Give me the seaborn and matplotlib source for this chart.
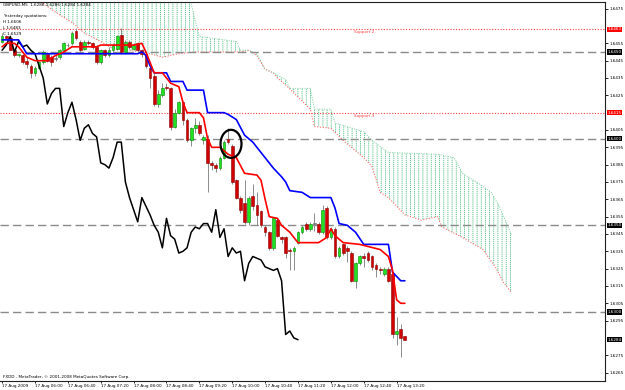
import matplotlib
matplotlib.use("Agg")
import matplotlib.pyplot as plt
import matplotlib.transforms as mtransforms
from matplotlib.patches import Ellipse
from matplotlib import font_manager
import numpy as np
import pandas as pd
import seaborn as sns

# ---------------- data (GBPUSD M5, 17 Aug 2009) ----------------
opens = [1.6456, 1.6459, 1.6458, 1.6451, 1.6448, 1.6448, 1.6445, 1.6442, 1.6438, 1.6441,
         1.6444, 1.6449, 1.6447, 1.6446, 1.6447, 1.6451, 1.6454, 1.6455, 1.6462, 1.6456,
         1.6452, 1.6456, 1.6455, 1.6453, 1.6444, 1.6451, 1.6448, 1.6451, 1.6452, 1.6460,
         1.6450, 1.6456, 1.6452, 1.6455, 1.6451, 1.6449, 1.6441, 1.6436, 1.6420, 1.6425,
         1.6430, 1.6429, 1.6407, 1.6415, 1.6421, 1.6411, 1.6399, 1.6406, 1.6408, 1.6399,
         1.6400, 1.6386, 1.6385, 1.6383, 1.6389, 1.6400, 1.6396, 1.6376, 1.6366, 1.6363,
         1.6352, 1.6367, 1.6362, 1.6358, 1.6349, 1.6346, 1.6337, 1.6353, 1.6343, 1.6343,
         1.6336, 1.6335, 1.6340, 1.6346, 1.6351, 1.6348, 1.6351, 1.6351, 1.6346, 1.6360,
         1.6343, 1.6348, 1.6332, 1.6339, 1.6337, 1.6334, 1.6318, 1.6328, 1.6332, 1.6334,
         1.6332, 1.6327, 1.6325, 1.6322, 1.6325, 1.6322, 1.6287, 1.6290, 1.6286]
highs = [1.6461, 1.6460, 1.6459, 1.6452, 1.6449, 1.6449, 1.6447, 1.6443, 1.6442, 1.6445,
         1.6451, 1.6450, 1.6448, 1.6448, 1.6452, 1.6456, 1.6455, 1.6462, 1.6464, 1.6457,
         1.6457, 1.6457, 1.6456, 1.6454, 1.6452, 1.6452, 1.6453, 1.6455, 1.6460, 1.6464,
         1.6457, 1.6457, 1.6455, 1.6456, 1.6452, 1.6450, 1.6442, 1.6438, 1.6428, 1.6432,
         1.6432, 1.6430, 1.6417, 1.6422, 1.6422, 1.6412, 1.6407, 1.6412, 1.6410, 1.6402,
         1.6402, 1.6387, 1.6386, 1.6390, 1.6399, 1.6406, 1.6397, 1.6377, 1.6367, 1.6376,
         1.6367, 1.6374, 1.6369, 1.6359, 1.6350, 1.6347, 1.6355, 1.6354, 1.6344, 1.6344,
         1.6337, 1.6338, 1.6347, 1.6350, 1.6352, 1.6352, 1.6357, 1.6352, 1.6362, 1.6361,
         1.6349, 1.6349, 1.6338, 1.6340, 1.6338, 1.6335, 1.6329, 1.6333, 1.6334, 1.6335,
         1.6333, 1.6328, 1.6326, 1.6326, 1.6326, 1.6323, 1.6297, 1.6293, 1.6286]
lows = [1.6455, 1.6457, 1.6451, 1.6447, 1.6447, 1.6443, 1.6441, 1.6435, 1.6436, 1.6440,
        1.6443, 1.6444, 1.6442, 1.6445, 1.6446, 1.6450, 1.6453, 1.6454, 1.6457, 1.6450,
        1.6451, 1.6454, 1.6452, 1.6443, 1.6443, 1.6447, 1.6447, 1.6450, 1.6451, 1.6449,
        1.6449, 1.6452, 1.6451, 1.6450, 1.6447, 1.6441, 1.6429, 1.6419, 1.6418, 1.6424,
        1.6428, 1.6405, 1.6406, 1.6414, 1.6408, 1.6398, 1.6396, 1.6403, 1.6402, 1.6397,
        1.6369, 1.6382, 1.6381, 1.6382, 1.6388, 1.6397, 1.6374, 1.6365, 1.6357, 1.6351,
        1.6350, 1.6359, 1.6350, 1.6349, 1.6344, 1.6336, 1.6336, 1.6343, 1.6340, 1.6331,
        1.6324, 1.6324, 1.6339, 1.6345, 1.6347, 1.6347, 1.6347, 1.6345, 1.6345, 1.6342,
        1.6342, 1.6331, 1.6331, 1.6333, 1.6329, 1.6317, 1.6314, 1.6327, 1.6326, 1.6329,
        1.6324, 1.6320, 1.6322, 1.6321, 1.6317, 1.6285, 1.6281, 1.6274, 1.6284]
closes = [1.6459, 1.6458, 1.6451, 1.6448, 1.6449, 1.6444, 1.6443, 1.6438, 1.6441, 1.6444,
          1.6450, 1.6445, 1.6444, 1.6446, 1.6451, 1.6455, 1.6454, 1.6461, 1.6458, 1.6451,
          1.6456, 1.6455, 1.6453, 1.6444, 1.6451, 1.6448, 1.6451, 1.6454, 1.6459, 1.6450,
          1.6456, 1.6453, 1.6454, 1.6451, 1.6449, 1.6442, 1.6435, 1.6420, 1.6426, 1.6429,
          1.6429, 1.6407, 1.6415, 1.6421, 1.6411, 1.6399, 1.6406, 1.6408, 1.6403, 1.6401,
          1.6386, 1.6385, 1.6383, 1.6389, 1.6398, 1.6398, 1.6375, 1.6366, 1.6359, 1.6352,
          1.6366, 1.6361, 1.6356, 1.6350, 1.6346, 1.6337, 1.6354, 1.6344, 1.6342, 1.6334,
          1.6335, 1.6337, 1.6346, 1.6349, 1.6348, 1.6351, 1.6351, 1.6346, 1.6359, 1.6343,
          1.6348, 1.6332, 1.6337, 1.6334, 1.6335, 1.6318, 1.6328, 1.6332, 1.6331, 1.6330,
          1.6326, 1.6325, 1.6324, 1.6325, 1.6318, 1.6287, 1.6289, 1.6285, 1.6284]
chikou_shift = 26

tenkan_bar = [0, 1, 3, 4, 6, 8, 11, 13, 15, 17, 23, 24, 32, 34, 35, 36, 37, 39, 41, 43,
              44, 45, 48, 49, 50, 51, 53, 55, 57, 59, 62, 63, 64, 65, 67, 68, 70, 72, 77, 79,
              80, 81, 83, 87, 92, 94, 95, 96, 97, 98]
tenkan_val = [1.6453, 1.6455, 1.6455, 1.6453, 1.6447, 1.6445, 1.6445, 1.6448, 1.6450, 1.6453,
              1.6453, 1.6454, 1.6454, 1.6455, 1.6450, 1.6444, 1.6438, 1.6438, 1.6432, 1.6430,
              1.6421, 1.6415, 1.6415, 1.6412, 1.6400, 1.6395, 1.6395, 1.6391, 1.6389, 1.6380,
              1.6379, 1.6376, 1.6365, 1.6355, 1.6354, 1.6350, 1.6346, 1.6340, 1.6340, 1.6343,
              1.6348, 1.6344, 1.6340, 1.6339, 1.6336, 1.6332, 1.6324, 1.6307, 1.6305, 1.6305]
kijun_bar = [0, 4, 6, 33, 34, 35, 36, 37, 40, 41, 44, 45, 49, 50, 54, 55, 57, 59, 61, 64,
             66, 68, 69, 70, 73, 75, 80, 81, 82, 84, 86, 88, 94, 95, 97, 98]
kijun_val = [1.6457, 1.6457, 1.6449, 1.6449, 1.6450, 1.6448, 1.6442, 1.6438, 1.6438, 1.6433,
             1.6433, 1.6428, 1.6428, 1.6415, 1.6415, 1.6414, 1.6411, 1.6402, 1.6398, 1.6389,
             1.6383, 1.6378, 1.6375, 1.6370, 1.6369, 1.6366, 1.6366, 1.6360, 1.6351, 1.6350,
             1.6346, 1.6339, 1.6339, 1.6323, 1.6318, 1.6318]
kumo_low_bar = [10, 13, 17, 20, 24, 27, 31, 36, 39, 43, 47, 54, 58, 60, 62, 64, 66, 67, 69, 75,
                76, 80, 83, 88, 90, 92, 94, 98, 102, 106, 107, 112, 117, 120, 122, 124]
kumo_low_val = [1.6478, 1.6473, 1.6467, 1.6461, 1.6456, 1.6452, 1.6451, 1.6449, 1.6447, 1.6449,
                1.6450, 1.6450, 1.6450, 1.6451, 1.6448, 1.6440, 1.6438, 1.6435, 1.6431, 1.6417,
                1.6407, 1.6406, 1.6399, 1.6389, 1.6384, 1.6369, 1.6366, 1.6356, 1.6353, 1.6355,
                1.6349, 1.6343, 1.6336, 1.6326, 1.6317, 1.6311]
kumo_high_bar = [10, 45, 46, 47, 48, 57, 58, 60, 62, 64, 66, 69, 70, 75, 76, 80, 81, 88, 90, 94,
                 106, 110, 112, 116, 119, 121, 124]
kumo_high_val = [1.6490, 1.6490, 1.6478, 1.6468, 1.6459, 1.6456, 1.6451, 1.6451, 1.6449, 1.6440,
                 1.6438, 1.6434, 1.6429, 1.6429, 1.6417, 1.6417, 1.6409, 1.6404, 1.6399, 1.6392,
                 1.6391, 1.6389, 1.6380, 1.6374, 1.6369, 1.6361, 1.6344]

round_levels = [1.6450, 1.6400, 1.6350, 1.6300]
support_levels = [1.6463, 1.6415]
support_names = ["Support 2", "Support 3"]
support_label_bar = 88
last_price = 1.6284
circle_bar, circle_price = 55.7, 1.6397
circle_w_bars, circle_h_price = 5.1, 0.00162

time_label_bars = [0, 8, 16, 24, 32, 40, 48, 56, 64, 72, 80, 88, 96]
time_labels = ["17 Aug 2009", "17 Aug 06:00", "17 Aug 06:40", "17 Aug 07:20", "17 Aug 08:00",
               "17 Aug 08:40", "17 Aug 09:20", "17 Aug 10:00", "17 Aug 10:40", "17 Aug 11:20",
               "17 Aug 12:00", "17 Aug 12:40", "17 Aug 13:20"]
price_ticks = [1.6475, 1.6455, 1.6445, 1.6435, 1.6425, 1.6405, 1.6395, 1.6385, 1.6375, 1.6365,
               1.6355, 1.6345, 1.6335, 1.6325, 1.6315, 1.6305, 1.6295, 1.6275, 1.6265]
title_text = "GBPUSD,M5  1.6286 1.6286 1.6284 1.6284"
info_lines = ["Yesterday quotations:", "H 1.6606", "L 1.6483", "C 1.6529"]
copyright_text = "FXDD - MetaTrader, \u00a9 2001-2008 MetaQuotes Software Corp."

# ---------------- style ----------------
sns.set_theme(style="white")
avail = {f.name for f in font_manager.fontManager.ttflist}
if "Liberation Sans Narrow" in avail:
    FONT, k = "Liberation Sans Narrow", 1.0
else:
    FONT, k = "DejaVu Sans", 0.74
plt.rcParams["font.family"] = [FONT, "DejaVu Sans"]
plt.rcParams["hatch.linewidth"] = 0.6
fs = 4.0 * k

W, H = 625, 390
fig = plt.figure(figsize=(W / 100, H / 100), dpi=100)
fig.patch.set_facecolor("white")
ax = fig.add_axes([0, 1 - 381 / H, 605 / W, 379 / H])
ax.set_facecolor("white")

# ---------------- kumo (cloud): dotted vertical hatching ----------------
poly_x = kumo_high_bar + kumo_low_bar[::-1]
poly_y = kumo_high_val + kumo_low_val[::-1]
ax.fill(poly_x, poly_y, facecolor="none", edgecolor="#4cbf80", hatch="|" * 4,
        linewidth=0.0, zorder=1)
ax.fill(poly_x, poly_y, facecolor="none", edgecolor="white", hatch="-" * 8,
        linewidth=0.0, zorder=1.1)
sns.lineplot(x=kumo_low_bar, y=kumo_low_val, ax=ax, color="#ff6a6a", lw=0.8,
             linestyle=(0, (1, 1.5)), estimator=None, sort=False, zorder=1.5)
sns.lineplot(x=kumo_high_bar, y=kumo_high_val, ax=ax, color="#7fd0a0", lw=0.7,
             linestyle=(0, (1, 1.5)), estimator=None, sort=False, zorder=1.5)

# ---------------- horizontal levels ----------------
for lv in round_levels:
    ax.axhline(lv, color="#8a8a8a", lw=1.0, linestyle=(0, (6, 3)), zorder=2)
for lv, name in zip(support_levels, support_names):
    ax.axhline(lv, color="#ff3c3c", lw=0.8, linestyle=(0, (1, 1.5)), zorder=2)
    ax.text(support_label_bar, lv - 0.00005, name, color="#ff4040", fontsize=fs,
            ha="center", va="top", zorder=6)

# ---------------- candles ----------------
o = np.array(opens); h = np.array(highs); l = np.array(lows); c = np.array(closes)
bars = np.arange(len(c))
up = c > o
dn = c < o
ax.vlines(bars, l, h, color="#8c8c8c", lw=0.7, zorder=3)
body = np.where(c == o, 0.00003, c - o)
face = np.where(up, "#22e022", np.where(dn, "#d00000", "#888888"))
edge = np.where(up, "#008a00", np.where(dn, "#8a0000", "#666666"))
ax.bar(bars, body, bottom=o, width=0.66, color=face, edgecolor=edge, linewidth=0.4, zorder=4)

# ---------------- ichimoku lines ----------------
chikou = pd.DataFrame({"bar": bars[:len(c) - chikou_shift], "price": c[chikou_shift:]})
sns.lineplot(data=chikou, x="bar", y="price", ax=ax, color="black", lw=1.1,
             estimator=None, sort=False, zorder=5)
sns.lineplot(x=kijun_bar, y=kijun_val, ax=ax, color="#0000ff", lw=1.2,
             estimator=None, sort=False, zorder=5)
sns.lineplot(x=tenkan_bar, y=tenkan_val, ax=ax, color="#ff0000", lw=1.2,
             estimator=None, sort=False, zorder=5.1)

ax.add_patch(Ellipse((circle_bar, circle_price), circle_w_bars, circle_h_price,
                     fill=False, ec="black", lw=1.6, zorder=7))

# ---------------- axes ----------------
ax.set_xlim(-0.51, 146.7)
ax.set_ylim(1.626016, 1.647885)
ax.set_xlabel("")
ax.set_ylabel("")
ax.set_xticks(time_label_bars)
ax.set_xticklabels(time_labels, ha="left")
ax.yaxis.tick_right()
ax.set_yticks(price_ticks)
ax.set_yticklabels([f"{p:.4f}" for p in price_ticks])
ax.tick_params(axis="x", length=1.5, width=0.6, pad=0.4, labelsize=fs, colors="black",
               direction="out", bottom=True)
ax.tick_params(axis="y", length=2, width=0.6, pad=1.2, labelsize=fs, colors="black",
               direction="out", right=True, left=False)
for side in ["top", "right", "bottom"]:
    ax.spines[side].set_color("#202020")
    ax.spines[side].set_linewidth(0.8)
ax.spines["left"].set_visible(False)
ax.grid(False)

trans = mtransforms.blended_transform_factory(ax.transAxes, ax.transData)
boxes = [(support_levels[0], "#ff0000"), (round_levels[0], "black"), (support_levels[1], "#ff0000")] \
        + [(lv, "black") for lv in round_levels[1:]] + [(last_price, "black")]
for price, fc in boxes:
    ax.text(1.004, price, f"{price:.4f}", transform=trans, ha="left", va="center",
            color="white", fontsize=fs, clip_on=False, zorder=10,
            bbox=dict(boxstyle="square,pad=0.18", fc=fc, ec="none"))

# ---------------- overlay texts ----------------
fig.text(3 / W, 1 - 5 / H, title_text, fontsize=fs, color="black", ha="left", va="center")
for j, line in enumerate(info_lines):
    fig.text(3 / W, 1 - (16 + 6 * j) / H, line, fontsize=fs, color="black",
             ha="left", va="center")
fig.text(3 / W, 1 - 377 / H, copyright_text, fontsize=fs, color="black",
         ha="left", va="center")

fig.savefig("out.png", dpi=100, facecolor="white")
